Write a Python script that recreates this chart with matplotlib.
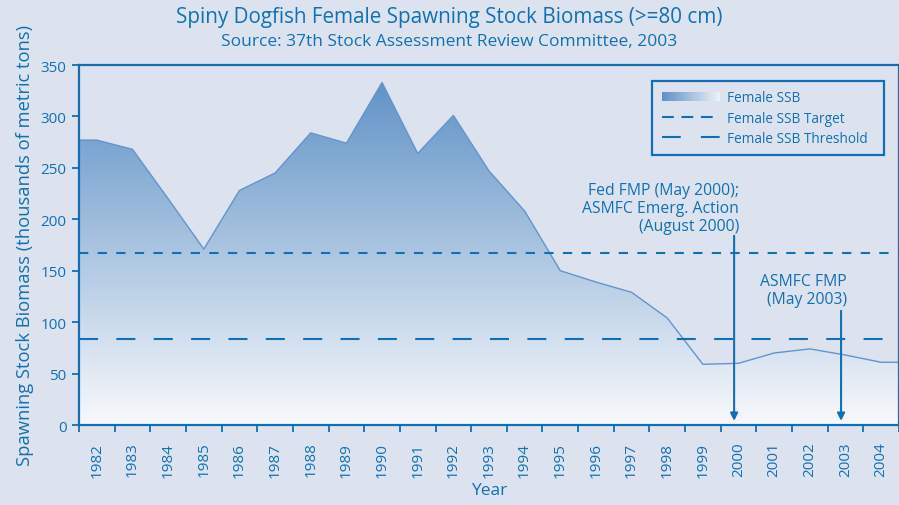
import numpy as np
import matplotlib
matplotlib.use("Agg")
import matplotlib.pyplot as plt
from matplotlib.patches import Rectangle, Polygon
from matplotlib.lines import Line2D
from matplotlib.legend_handler import HandlerBase
from matplotlib.colors import LinearSegmentedColormap

# ---- data ----
years = list(range(1982, 2005))
ssb = [277, 268, 220, 171, 228, 245, 284, 274, 333, 264, 301, 247, 208,
       150, 139, 129, 104, 59, 60, 70, 74, 68, 61]
target = 167.6
threshold = 83.8
event_dates = [2000.375, 2003.375]
event_labels = ["Fed FMP (May 2000);\nASMFC Emerg. Action\n(August 2000)",
                "ASMFC FMP\n(May 2003)"]

BLUE = "#1170b5"
BG = "#dce3ef"
TOP = "#5e91c6"
BOTTOM = "#f8f9fc"
FONT = "Open Sans"

plt.rcParams["font.family"] = [FONT, "DejaVu Sans"]
plt.rcParams["lines.scale_dashes"] = False

fig = plt.figure(figsize=(8.99, 5.06), dpi=100, facecolor=BG)
ax = fig.add_axes([79/899, 1-426/506, 1-79/899, 360/506], facecolor=BG)

x0, x1 = years[0], years[-1] + 1
ax.set_xlim(x0, x1)
ax.set_ylim(0, 350)

xs = [x0] + [y + 0.5 for y in years] + [x1]
vs = [ssb[0]] + ssb + [ssb[-1]]

# gradient fill clipped to area
cmap = LinearSegmentedColormap.from_list("g", [BOTTOM, TOP])
grad = np.linspace(0, 1, 256).reshape(-1, 1)
img = ax.imshow(grad, cmap=cmap, origin="lower", aspect="auto",
                extent=[x0, x1, 0, 340], zorder=1, interpolation="bilinear")
poly = Polygon(list(zip(xs, vs)) + [(x1, 0), (x0, 0)], closed=True,
               facecolor="none", edgecolor="none")
ax.add_patch(poly)
img.set_clip_path(poly)
ax.plot(xs, vs, color="#6494cc", lw=1.0, zorder=2)

# reference lines
ax.axhline(target, color=BLUE, lw=1.5, dashes=(6.7, 6.7), zorder=3)
ax.axhline(threshold, color=BLUE, lw=1.5, dashes=(13.7, 13.2), zorder=3)

# arrows and annotations
arrow_tops = [184, 111]
for xd, top in zip(event_dates, arrow_tops):
    ax.annotate("", xy=(xd, 4), xytext=(xd, top),
                arrowprops=dict(arrowstyle="-|>", color=BLUE, lw=1.5,
                                mutation_scale=11, shrinkA=0, shrinkB=0),
                zorder=4)
ax.text(2000.52, 211, event_labels[0], ha="right", va="center", color=BLUE,
        fontsize=11.3, linespacing=1.15, multialignment="right")
ax.text(2003.54, 131, event_labels[1], ha="right", va="center", color=BLUE,
        fontsize=11.3, linespacing=1.15, multialignment="right")

# axes styling
for side in ["left", "bottom", "top", "right"]:
    ax.spines[side].set_color(BLUE)
    ax.spines[side].set_linewidth(1.6)
ax.set_yticks(range(0, 351, 50))
ax.tick_params(axis="y", colors=BLUE, labelsize=11, length=5, width=1.3, pad=4)
ax.set_xticks(range(x0, x1 + 1))
ax.set_xticklabels([])
ax.set_xticks([y + 0.5 for y in years], minor=True)
ax.set_xticklabels([str(y) for y in years], minor=True, rotation=90)
ax.tick_params(axis="x", which="major", colors=BLUE, length=5, width=1.3)
ax.tick_params(axis="x", which="minor", colors=BLUE, length=0, labelsize=11, pad=12)

ax.set_xlabel("Year", color=BLUE, fontsize=12.5, labelpad=4)
ax.set_ylabel("Spawning Stock Biomass (thousands of metric tons)", color=BLUE,
              fontsize=13.2, labelpad=5)

fig.text(0.5, 1-18/506, "Spiny Dogfish Female Spawning Stock Biomass (>=80 cm)",
         ha="center", va="center", color=BLUE, fontsize=14.9)
fig.text(0.5, 1-42/506, "Source: 37th Stock Assessment Review Committee, 2003",
         ha="center", va="center", color=BLUE, fontsize=12.5)


class GradHandler(HandlerBase):
    def create_artists(self, legend, orig_handle, xdescent, ydescent, width,
                       height, fontsize, trans):
        n = 40
        arts = []
        h = height * 0.9
        y = -ydescent + (height - h) / 2
        for i in range(n):
            c = cmap(1 - i / (n - 1) * 0.92)
            r = Rectangle((-xdescent + width * i / n, y), width / n * 1.05, h,
                          facecolor=c, edgecolor="none", transform=trans)
            arts.append(r)
        return arts


grad_handle = Rectangle((0, 0), 1, 1)
h_target = Line2D([], [], color=BLUE, lw=1.5, dashes=(8.5, 5.5))
h_thresh = Line2D([], [], color=BLUE, lw=1.5, dashes=(13.5, 14.5))
leg = ax.legend([grad_handle, h_target, h_thresh],
                ["Female SSB", "Female SSB Target", "Female SSB Threshold  "],
                handler_map={Rectangle: GradHandler()},
                loc="upper right", bbox_to_anchor=(0.982, 0.956),
                borderaxespad=0, fontsize=9.8, handlelength=4.3,
                labelspacing=0.38, handletextpad=0.5, borderpad=0.7,
                fancybox=False, framealpha=1, facecolor=BG, edgecolor=BLUE)
leg.get_frame().set_linewidth(1.6)
for t in leg.get_texts():
    t.set_color(BLUE)
leg.set_zorder(6)

fig.savefig("out.png", dpi=100, facecolor=BG)
